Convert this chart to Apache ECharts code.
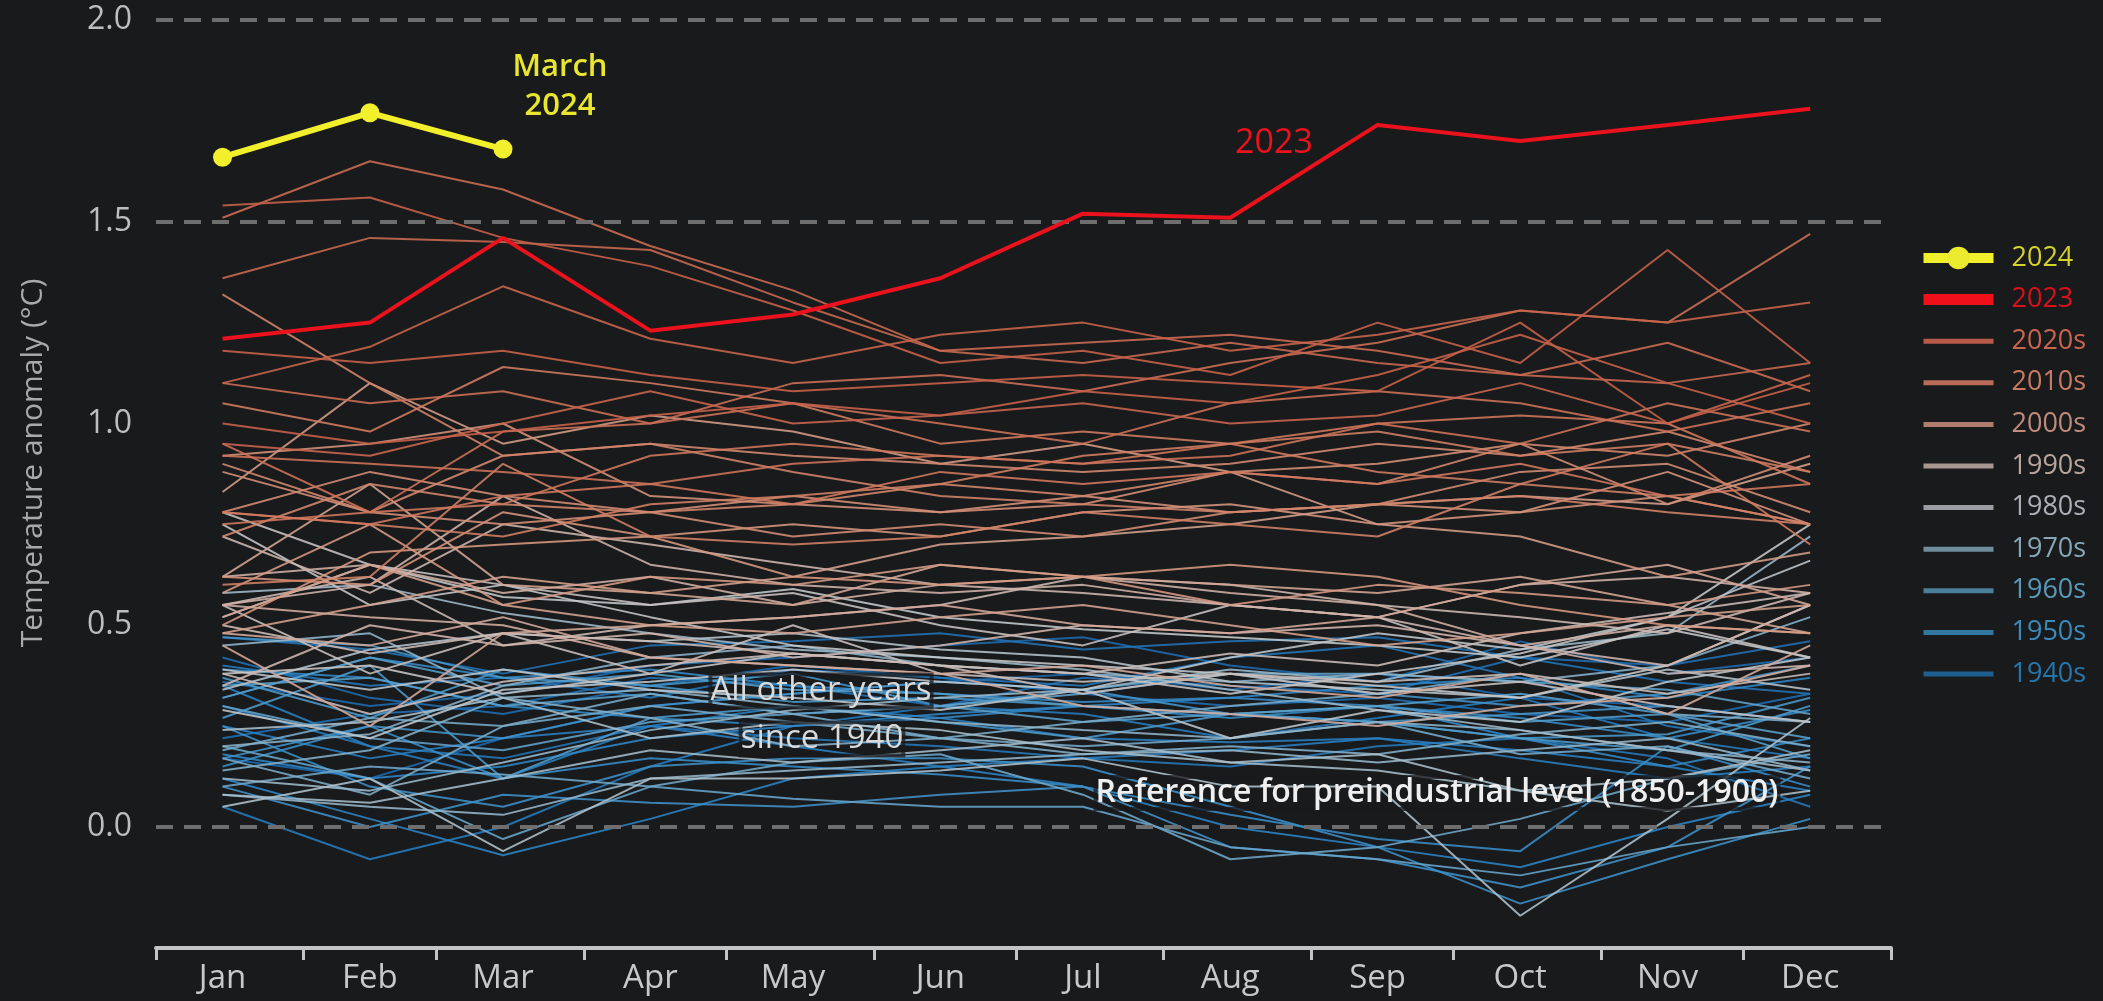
<!DOCTYPE html>
<html>
<head>
<meta charset="utf-8">
<title>Monthly global surface air temperature anomalies</title>
<script src="https://cdn.jsdelivr.net/npm/echarts@6/dist/echarts.min.js"></script>
<style>
  html, body { margin: 0; padding: 0; background: #191a1c; }
  #chart { width: 2103px; height: 1001px; }
</style>
</head>
<body>
<div id="chart"></div>
<script>
const months = ['Jan', 'Feb', 'Mar', 'Apr', 'May', 'Jun', 'Jul', 'Aug', 'Sep', 'Oct', 'Nov', 'Dec']
// day of year of the 15th of each month, and of each month start
const monthMid = [14, 45, 73, 104, 134, 165, 195, 226, 257, 287, 318, 348]
const monthStart = [0, 31, 59, 90, 120, 151, 181, 212, 243, 273, 304, 334, 365]
const yTicks = [0, 0.5, 1, 1.5, 2]
const refLevels = [0, 1.5, 2]

const temps2024 = [1.66, 1.77, 1.68]
const temps2023 = [1.21, 1.25, 1.46, 1.23, 1.27, 1.36, 1.52, 1.51, 1.74, 1.70, 1.74, 1.78]

const temps1940s = [
  [0.17, 0.12, 0.22, 0.30, 0.33, 0.36, 0.38, 0.34, 0.38, 0.32, 0.30, 0.26],
  [0.36, 0.30, 0.33, 0.40, 0.42, 0.45, 0.47, 0.40, 0.36, 0.46, 0.38, 0.42],
  [0.42, 0.32, 0.28, 0.35, 0.40, 0.37, 0.33, 0.30, 0.32, 0.28, 0.26, 0.33],
  [0.22, 0.28, 0.30, 0.37, 0.35, 0.30, 0.37, 0.35, 0.33, 0.42, 0.40, 0.46],
  [0.47, 0.44, 0.38, 0.45, 0.46, 0.48, 0.44, 0.46, 0.47, 0.42, 0.36, 0.33],
  [0.40, 0.35, 0.37, 0.32, 0.39, 0.37, 0.35, 0.42, 0.45, 0.37, 0.25, 0.20],
  [0.30, 0.20, 0.17, 0.25, 0.22, 0.20, 0.17, 0.15, 0.20, 0.22, 0.17, 0.05],
  [0.05, -0.08, 0.00, 0.15, 0.25, 0.30, 0.28, 0.22, 0.27, 0.32, 0.22, 0.17],
  [0.35, 0.20, 0.12, 0.25, 0.30, 0.27, 0.22, 0.21, 0.22, 0.17, 0.12, 0.15],
  [0.25, 0.17, 0.22, 0.25, 0.20, 0.15, 0.17, 0.19, 0.22, 0.19, 0.15, 0.09],
]
const temps1950s = [
  [0.12, 0.02, -0.07, 0.02, 0.12, 0.15, 0.10, 0.00, -0.05, -0.10, 0.00, 0.08],
  [0.18, 0.12, 0.15, 0.22, 0.25, 0.28, 0.30, 0.32, 0.35, 0.37, 0.32, 0.37],
  [0.39, 0.37, 0.30, 0.27, 0.25, 0.27, 0.30, 0.27, 0.30, 0.22, 0.15, 0.22],
  [0.32, 0.42, 0.37, 0.39, 0.35, 0.33, 0.31, 0.32, 0.30, 0.27, 0.22, 0.29],
  [0.15, 0.25, 0.12, 0.17, 0.15, 0.13, 0.10, 0.03, -0.03, -0.06, 0.20, 0.10],
  [0.25, 0.10, 0.05, 0.15, 0.17, 0.17, 0.15, 0.05, -0.05, -0.19, -0.08, 0.02],
  [0.10, 0.00, 0.08, 0.06, 0.05, 0.08, 0.10, -0.05, -0.08, -0.15, -0.05, 0.15],
  [0.17, 0.25, 0.22, 0.30, 0.33, 0.36, 0.34, 0.38, 0.33, 0.30, 0.33, 0.40],
  [0.47, 0.45, 0.37, 0.35, 0.38, 0.30, 0.34, 0.28, 0.26, 0.28, 0.30, 0.26],
  [0.37, 0.27, 0.39, 0.35, 0.31, 0.32, 0.30, 0.28, 0.26, 0.22, 0.23, 0.32],
]
const temps1960s = [
  [0.27, 0.40, 0.12, 0.27, 0.30, 0.26, 0.22, 0.28, 0.26, 0.22, 0.19, 0.30],
  [0.32, 0.42, 0.35, 0.38, 0.34, 0.33, 0.30, 0.28, 0.30, 0.26, 0.28, 0.17],
  [0.35, 0.37, 0.30, 0.33, 0.28, 0.30, 0.26, 0.28, 0.30, 0.33, 0.28, 0.22],
  [0.30, 0.22, 0.19, 0.26, 0.28, 0.30, 0.33, 0.38, 0.38, 0.36, 0.34, 0.28],
  [0.20, 0.12, -0.03, 0.10, 0.07, 0.05, 0.05, -0.05, -0.08, -0.12, -0.05, 0.00],
  [0.10, 0.15, 0.13, 0.10, 0.16, 0.18, 0.08, -0.08, -0.05, 0.02, 0.12, 0.18],
  [0.19, 0.27, 0.25, 0.30, 0.26, 0.22, 0.20, 0.22, 0.26, 0.18, 0.20, 0.12],
  [0.17, 0.08, 0.25, 0.33, 0.28, 0.22, 0.26, 0.30, 0.33, 0.38, 0.28, 0.26],
  [0.14, 0.19, 0.32, 0.27, 0.20, 0.22, 0.18, 0.20, 0.18, 0.23, 0.26, 0.20],
  [0.20, 0.23, 0.35, 0.42, 0.45, 0.40, 0.38, 0.36, 0.38, 0.36, 0.40, 0.52],
]
const temps1970s = [
  [0.45, 0.48, 0.32, 0.34, 0.30, 0.26, 0.24, 0.22, 0.26, 0.24, 0.19, 0.16],
  [0.08, 0.05, 0.03, 0.12, 0.14, 0.16, 0.18, 0.19, 0.16, 0.19, 0.22, 0.14],
  [0.12, 0.09, 0.16, 0.24, 0.29, 0.32, 0.34, 0.39, 0.36, 0.44, 0.48, 0.72],
  [0.58, 0.60, 0.53, 0.48, 0.44, 0.42, 0.39, 0.34, 0.29, 0.24, 0.19, 0.14],
  [0.08, 0.06, 0.12, 0.19, 0.16, 0.19, 0.22, 0.16, 0.14, 0.09, 0.12, 0.19],
  [0.24, 0.26, 0.32, 0.22, 0.26, 0.24, 0.19, 0.16, 0.18, 0.09, 0.04, 0.09],
  [0.05, 0.12, -0.06, 0.12, 0.12, 0.14, 0.17, 0.10, 0.10, -0.22, 0.02, 0.27],
  [0.34, 0.44, 0.48, 0.46, 0.48, 0.44, 0.42, 0.36, 0.34, 0.32, 0.39, 0.34],
  [0.39, 0.34, 0.39, 0.34, 0.32, 0.29, 0.34, 0.22, 0.29, 0.26, 0.36, 0.42],
  [0.29, 0.22, 0.34, 0.36, 0.39, 0.36, 0.34, 0.42, 0.48, 0.44, 0.52, 0.66],
]
const temps1980s = [
  [0.52, 0.65, 0.57, 0.55, 0.59, 0.52, 0.49, 0.47, 0.45, 0.42, 0.49, 0.42],
  [0.75, 0.55, 0.60, 0.52, 0.45, 0.42, 0.40, 0.38, 0.35, 0.32, 0.40, 0.55],
  [0.38, 0.40, 0.33, 0.38, 0.43, 0.40, 0.38, 0.33, 0.38, 0.43, 0.52, 0.75],
  [0.78, 0.65, 0.60, 0.55, 0.58, 0.50, 0.45, 0.55, 0.52, 0.40, 0.50, 0.42],
  [0.55, 0.38, 0.48, 0.38, 0.50, 0.38, 0.36, 0.38, 0.33, 0.36, 0.30, 0.26],
  [0.38, 0.28, 0.36, 0.40, 0.43, 0.40, 0.33, 0.38, 0.36, 0.38, 0.33, 0.38],
  [0.50, 0.43, 0.48, 0.46, 0.43, 0.40, 0.38, 0.43, 0.40, 0.48, 0.53, 0.58],
  [0.55, 0.62, 0.45, 0.50, 0.52, 0.55, 0.62, 0.60, 0.55, 0.52, 0.48, 0.58],
  [0.72, 0.58, 0.75, 0.70, 0.65, 0.60, 0.58, 0.55, 0.52, 0.45, 0.38, 0.40],
  [0.35, 0.50, 0.45, 0.48, 0.42, 0.45, 0.50, 0.48, 0.50, 0.45, 0.40, 0.55],
]
const temps1990s = [
  [0.55, 0.60, 0.82, 0.65, 0.60, 0.58, 0.60, 0.55, 0.52, 0.60, 0.62, 0.58],
  [0.62, 0.65, 0.58, 0.62, 0.55, 0.60, 0.62, 0.58, 0.55, 0.45, 0.50, 0.48],
  [0.55, 0.52, 0.50, 0.42, 0.40, 0.38, 0.30, 0.28, 0.25, 0.30, 0.32, 0.40],
  [0.48, 0.45, 0.52, 0.42, 0.40, 0.38, 0.40, 0.35, 0.32, 0.38, 0.28, 0.45],
  [0.45, 0.25, 0.48, 0.50, 0.52, 0.55, 0.50, 0.48, 0.52, 0.60, 0.65, 0.55],
  [0.62, 0.85, 0.60, 0.58, 0.55, 0.65, 0.62, 0.60, 0.58, 0.62, 0.55, 0.48],
  [0.52, 0.65, 0.55, 0.50, 0.48, 0.52, 0.55, 0.50, 0.45, 0.48, 0.52, 0.55],
  [0.48, 0.55, 0.62, 0.58, 0.62, 0.70, 0.72, 0.75, 0.80, 0.82, 0.80, 0.90],
  [0.83, 1.10, 0.95, 1.02, 0.98, 0.90, 0.95, 0.88, 0.75, 0.72, 0.62, 0.68],
  [0.58, 0.75, 0.55, 0.62, 0.60, 0.65, 0.62, 0.55, 0.60, 0.58, 0.55, 0.60],
]
const temps2000s = [
  [0.50, 0.68, 0.70, 0.72, 0.62, 0.60, 0.62, 0.65, 0.62, 0.55, 0.50, 0.48],
  [0.62, 0.60, 0.78, 0.72, 0.75, 0.72, 0.78, 0.80, 0.75, 0.78, 0.88, 0.75],
  [0.92, 0.95, 1.00, 0.82, 0.80, 0.78, 0.82, 0.78, 0.80, 0.78, 0.82, 0.75],
  [0.88, 0.78, 0.75, 0.78, 0.82, 0.78, 0.80, 0.88, 0.90, 0.95, 0.80, 0.92],
  [0.78, 0.88, 0.82, 0.78, 0.72, 0.75, 0.72, 0.78, 0.80, 0.88, 0.90, 0.78],
  [0.90, 0.78, 0.92, 0.95, 0.92, 0.90, 0.88, 0.90, 0.95, 0.92, 0.98, 0.88],
  [0.72, 0.85, 0.80, 0.78, 0.80, 0.85, 0.82, 0.88, 0.85, 0.95, 0.92, 1.00],
  [1.32, 1.10, 0.92, 0.95, 0.88, 0.82, 0.80, 0.78, 0.80, 0.82, 0.78, 0.75],
  [0.60, 0.62, 0.90, 0.72, 0.70, 0.72, 0.78, 0.75, 0.72, 0.85, 0.82, 0.75],
  [0.78, 0.75, 0.72, 0.80, 0.82, 0.85, 0.92, 0.95, 0.98, 0.92, 0.95, 0.88],
]
const temps2010s = [
  [1.05, 0.98, 1.14, 1.10, 1.05, 0.95, 0.98, 0.95, 0.88, 0.85, 0.95, 0.70],
  [0.78, 0.75, 0.82, 0.85, 0.80, 0.88, 0.85, 0.88, 0.85, 0.90, 0.82, 0.85],
  [0.75, 0.78, 0.80, 0.92, 0.95, 0.92, 0.90, 0.95, 1.00, 1.02, 1.00, 0.85],
  [0.92, 0.90, 0.88, 0.85, 0.90, 0.92, 0.90, 0.92, 1.00, 0.95, 1.05, 0.98],
  [0.95, 0.78, 0.98, 1.00, 1.05, 1.00, 0.95, 1.05, 1.08, 1.05, 0.98, 1.05],
  [1.10, 1.05, 1.08, 1.00, 1.10, 1.12, 1.08, 1.15, 1.20, 1.28, 1.25, 1.47],
  [1.51, 1.65, 1.58, 1.44, 1.33, 1.18, 1.20, 1.22, 1.18, 1.12, 1.20, 1.08],
  [1.36, 1.46, 1.45, 1.43, 1.30, 1.18, 1.15, 1.20, 1.15, 1.12, 1.10, 1.15],
  [0.95, 0.92, 1.00, 1.08, 1.00, 1.02, 1.05, 1.00, 1.02, 1.10, 1.00, 1.12],
  [1.10, 1.19, 1.34, 1.21, 1.15, 1.22, 1.25, 1.18, 1.22, 1.28, 1.25, 1.30],
]
const temps2020s = [
  [1.54, 1.56, 1.46, 1.39, 1.28, 1.15, 1.18, 1.12, 1.25, 1.15, 1.43, 1.15],
  [1.00, 0.95, 0.98, 1.02, 1.05, 1.02, 1.08, 1.05, 1.12, 1.22, 1.10, 1.00],
  [1.18, 1.15, 1.18, 1.12, 1.08, 1.10, 1.12, 1.10, 1.08, 1.25, 1.00, 1.10],
]

const decadeLabels = ['1940s', '1950s', '1960s', '1970s', '1980s', '1990s', '2000s', '2010s', '2020s']
const decadeTemps = [temps1940s, temps1950s, temps1960s, temps1970s, temps1980s, temps1990s, temps2000s, temps2010s, temps2020s]
const decadeColors = ['#1c68ab', '#2c83c4', '#4d9aca', '#8fb4c9', '#c4c9cd', '#d2b3a8', '#d69880', '#d27c61', '#c8624a']
const legendTextColors = ['#2676ab', '#3a8bbb', '#5b99b8', '#86a7b5', '#aab0b5', '#b8a59e', '#c08b7c', '#c97a62', '#c9654f']
const legendIconColors = ['#1e5f8f', '#3277a0', '#4b7f9a', '#6f8e9b', '#9a9ea2', '#a89690', '#b07c6e', '#b96b58', '#b85a48']

const FONT = "'Open Sans', 'Noto Sans', sans-serif"

function mix(a, b, t) {
  const pa = [1, 3, 5].map(i => parseInt(a.slice(i, i + 2), 16))
  const pb = [1, 3, 5].map(i => parseInt(b.slice(i, i + 2), 16))
  return 'rgb(' + pa.map((v, i) => Math.round(v + (pb[i] - v) * t)).join(',') + ')'
}

const series = []
decadeTemps.forEach((rows, k) => {
  const next = decadeColors[Math.min(k + 1, decadeColors.length - 1)]
  rows.forEach((vals, i) => {
    const c = mix(decadeColors[k], next, i / 10)
    series.push({
      name: decadeLabels[k],
      type: 'line',
      symbol: 'none',
      silent: true,
      z: 2,
      lineStyle: { width: 2, color: c, opacity: 0.88 },
      itemStyle: { color: c },
      data: monthMid.map((d, m) => [d, vals[m]]),
    })
  })
})

// dashed reference levels
series.push({
  type: 'line',
  data: [],
  z: 3,
  silent: true,
  markLine: {
    silent: true,
    symbol: 'none',
    animation: false,
    label: { show: false },
    lineStyle: { type: [17, 11], width: 4, color: '#6e6e6e' },
    data: refLevels.map(v => ({ yAxis: v })),
  },
})

series.push({
  name: '2023',
  type: 'line',
  symbol: 'none',
  silent: true,
  z: 5,
  lineStyle: { width: 4, color: '#ea121c' },
  itemStyle: { color: '#ea121c' },
  data: monthMid.map((d, m) => [d, temps2023[m]]),
})

series.push({
  name: '2024',
  type: 'line',
  symbol: 'circle',
  symbolSize: 19,
  showSymbol: true,
  silent: true,
  z: 6,
  lineStyle: { width: 6, color: '#f2ef2c' },
  itemStyle: { color: '#f2ef2c' },
  data: temps2024.map((v, m) => [monthMid[m], v]),
})

const legendData = [
  { name: '2024', textStyle: { color: '#d4d22c' }, lineStyle: { width: 10 }, itemStyle: { color: '#ecea2e' } },
  { name: '2023', textStyle: { color: '#d8111b' }, lineStyle: { width: 11, color: '#f0101a' }, itemStyle: { opacity: 0 } },
]
for (let k = decadeLabels.length - 1; k >= 0; k--) {
  legendData.push({
    name: decadeLabels[k],
    textStyle: { color: legendTextColors[k] },
    lineStyle: { width: 5, opacity: 1, color: legendIconColors[k] },
    itemStyle: { opacity: 0 },
  })
}

// annotation texts sit on their own layer, above the lines
function note(text, x, y, fill, font, opts) {
  opts = opts || {}
  return {
    type: 'text', x, y, rotation: opts.rotation || 0, zlevel: 1, z: 100,
    style: {
      text, fill, font, align: 'center', verticalAlign: 'middle',
      textBorderColor: opts.halo ? 'rgba(25,26,28,0.75)' : null,
      textBorderWidth: opts.halo ? 4 : 0,
    },
  }
}

const chart = echarts.init(document.getElementById('chart'))
chart.setOption({
  backgroundColor: '#191a1c',
  animation: false,
  grid: { left: 156, right: 212, top: 20, bottom: 53 },
  xAxis: {
    type: 'value',
    min: 0,
    max: 365,
    axisLine: { onZero: false, lineStyle: { color: '#c4c4c4', width: 4 } },
    axisTick: { show: true, customValues: monthStart, length: 12, lineStyle: { color: '#c4c4c4', width: 3 } },
    axisLabel: {
      customValues: monthMid,
      formatter: v => months[monthMid.indexOf(v)],
      color: '#c8c8c8',
      fontSize: 33,
      fontFamily: FONT,
      margin: 14,
    },
    splitLine: { show: false },
  },
  yAxis: {
    type: 'value',
    min: -0.3,
    max: 2.0,
    axisLine: { show: false },
    axisTick: { show: false },
    splitLine: { show: false },
    axisLabel: {
      customValues: yTicks,
      formatter: v => v.toFixed(1),
      color: '#bdbdbd',
      fontSize: 32,
      fontFamily: FONT,
      margin: 24,
    },
  },
  legend: {
    orient: 'vertical',
    left: 1913,
    top: 239,
    itemWidth: 70,
    itemHeight: 28,
    itemGap: 13.6,
    selectedMode: false,
    textStyle: { fontSize: 27, fontFamily: FONT, lineHeight: 28, padding: [0, 0, 0, 13] },
    data: legendData,
  },
  graphic: {
    elements: [
      note('Temperature anomaly (°C)', 33, 463, '#a9a9a9', '30px ' + FONT, { rotation: Math.PI / 2 }),
      note('March', 560, 67, '#e8e62e', '600 31px ' + FONT),
      note('2024', 560, 106, '#e8e62e', '600 31px ' + FONT),
      note('2023', 1274, 143, '#ea121c', '500 34px ' + FONT),
      note('All other years', 821, 691, '#dadada', '33px ' + FONT, { halo: true }),
      note('since 1940', 822, 739, '#dadada', '33px ' + FONT, { halo: true }),
      note('Reference for preindustrial level (1850-1900)', 1437, 793, '#efefef', '600 32px ' + FONT, { halo: true }),
    ],
  },
  series,
})
</script>
</body>
</html>
